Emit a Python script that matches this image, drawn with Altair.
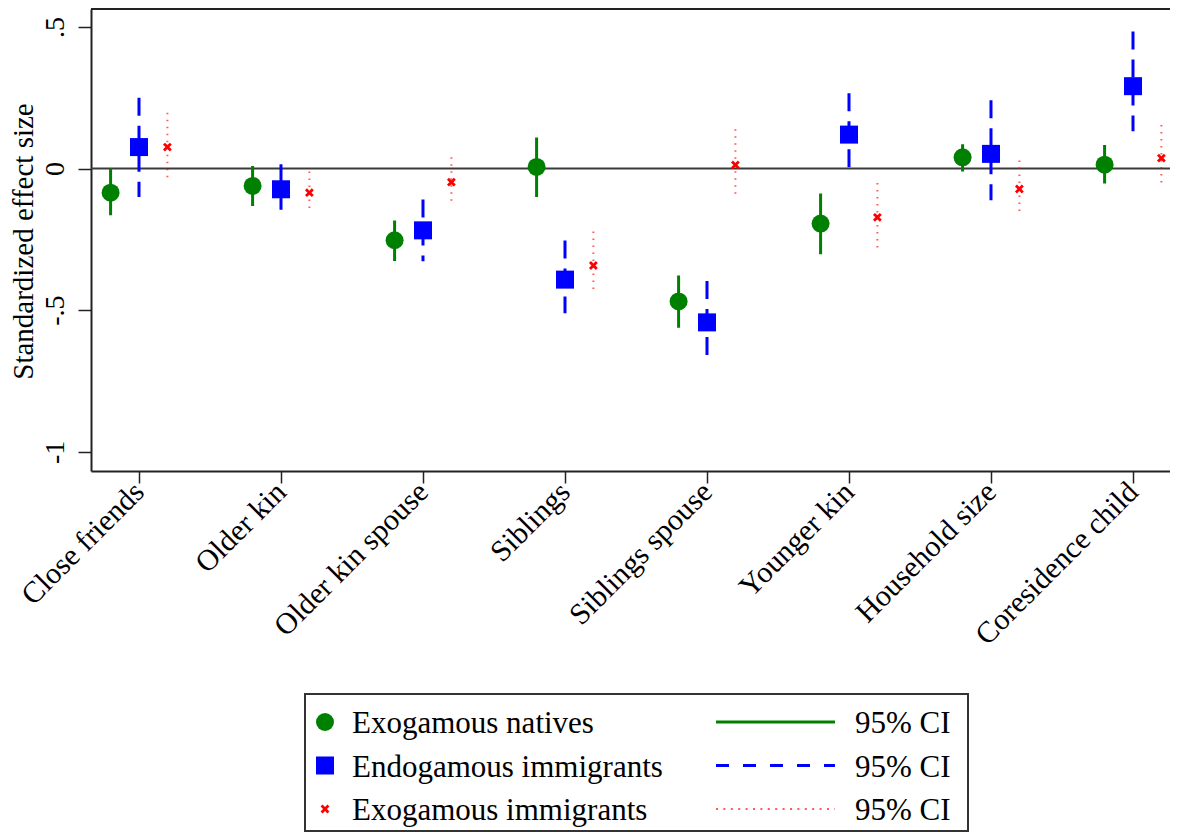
import json
import altair as alt
import pandas as pd

# ---------------- data ----------------
categories = ["Close friends", "Older kin", "Older kin spouse", "Siblings",
              "Siblings spouse", "Younger kin", "Household size", "Coresidence child"]
series = ["Exogamous natives", "Endogamous immigrants", "Exogamous immigrants"]

natives_est = [-0.085, -0.061, -0.253, 0.006, -0.469, -0.194, 0.040, 0.014]
natives_lo = [-0.165, -0.132, -0.326, -0.100, -0.562, -0.302, -0.010, -0.053]
natives_hi = [0.000, 0.009, -0.183, 0.110, -0.377, -0.088, 0.086, 0.083]

endo_est = [0.076, -0.073, -0.218, -0.392, -0.543, 0.120, 0.052, 0.291]
endo_lo = [-0.100, -0.145, -0.327, -0.511, -0.688, -0.025, -0.112, 0.132]
endo_hi = [0.250, 0.015, -0.109, -0.254, -0.397, 0.266, 0.241, 0.484]

exo_est = [0.076, -0.085, -0.048, -0.342, 0.013, -0.172, -0.072, 0.037]
exo_lo = [-0.038, -0.144, -0.120, -0.436, -0.100, -0.286, -0.155, -0.053]
exo_hi = [0.197, -0.010, 0.040, -0.222, 0.139, -0.051, 0.029, 0.154]

ytick_values = [-1, -0.5, 0, 0.5]
ytick_labels = ["-1", "-.5", "0", ".5"]
ci_label = "95% CI"

# ---------------- tables ----------------
series_offset = {series[0]: -0.2, series[1]: 0.0, series[2]: 0.2}
rows = []
for s, est, lo, hi in [(series[0], natives_est, natives_lo, natives_hi),
                       (series[1], endo_est, endo_lo, endo_hi),
                       (series[2], exo_est, exo_lo, exo_hi)]:
    for i, c in enumerate(categories):
        rows.append({"category": c, "idx": i + 1, "series": s,
                     "pos": i + 1 + series_offset[s],
                     "est": est[i], "lo": lo[i], "hi": hi[i]})
df = pd.DataFrame(rows)
legend_df = pd.DataFrame({"series": series, "label": series,
                          "row": list(range(len(series))),
                          "ci": [ci_label] * len(series)})
zero_df = pd.DataFrame({"z": [0]})

# ---------------- styling ----------------
W, H = 1079, 462
FONT = "Liberation Serif, Times New Roman, Times, serif"
FRAME = "#222222"
x_scale = alt.Scale(domain=[0.662, 0.662 + W / 142.0], nice=False, zero=False)
y_scale = alt.Scale(domain=[-1.0677, 0.5635], nice=False, zero=False)

x_path = ("M-1,-0.55L-0.55,-1L0,-0.45L0.55,-1L1,-0.55L0.45,0L1,0.55L0.55,1"
          "L0,0.45L-0.55,1L-1,0.55L-0.45,0Z")
styles = [
    dict(color="#008000", shape="circle", size=324, dash=[1, 0], sw=3, so=1.0,
         leg_dash=[1, 0]),
    dict(color="#0000ff", shape="square", size=324, dash=[18, 10], sw=3, so=1.0,
         leg_dash=[13, 14]),
    dict(color="#ff0000", shape=x_path, size=78, dash=[1.5, 5.5], sw=2, so=0.65,
         leg_dash=[2, 5.4]),
]

cat_expr = json.dumps(categories) + "[datum.value - 1]"
ylab_expr = (json.dumps(ytick_labels) + "[indexof(" + json.dumps(ytick_values)
             + ", datum.value)]")

x_axis = alt.Axis(values=list(range(1, len(categories) + 1)), labelExpr=cat_expr,
                  title=None, grid=False, labelAngle=315, labelAlign="right",
                  labelBaseline="middle", labelPadding=4, labelFont=FONT,
                  labelFontSize=30, labelColor="black", labelOverlap=False,
                  labelFlush=False, labelBound=False, labelLimit=600,
                  tickSize=12, tickWidth=1.5,
                  tickColor=FRAME, domainColor=FRAME, domainWidth=2)
y_axis = alt.Axis(values=ytick_values, labelExpr=ylab_expr,
                  title="Standardized effect size", grid=False, labelAngle=270,
                  labelAlign="center", labelBaseline="alphabetic", labelPadding=15,
                  labelFont=FONT, labelFontSize=28, labelColor="black",
                  labelOverlap=False, labelFlush=False, labelBound=False,
                  tickSize=13, tickWidth=1.5, tickColor=FRAME, domainColor=FRAME,
                  domainWidth=2, titleFont=FONT, titleFontSize=29,
                  titleFontWeight="normal", titleColor="black", titleAngle=270,
                  titleAlign="center", titleBaseline="alphabetic",
                  titleX=-59, titleY=232, titleLimit=600)

x_enc = alt.X("pos:Q", scale=x_scale, axis=x_axis)

layers = []
# zero reference line
layers.append(alt.Chart(zero_df).mark_rule(color="#3a3a3a", strokeWidth=2).encode(
    y=alt.Y("z:Q", scale=y_scale, axis=None),
    x=alt.value(0), x2=alt.value(W)))

# confidence intervals and estimates, one layer per series
for s, st in zip(series, styles):
    base = alt.Chart(df).transform_filter(alt.datum.series == s)
    layers.append(base.mark_rule(color=st["color"], strokeWidth=st["sw"],
                                 strokeDash=st["dash"], strokeOpacity=st["so"],
                                 strokeCap="butt").encode(
        x=x_enc,
        y=alt.Y("hi:Q", scale=y_scale, axis=None),
        y2="lo:Q"))
for k, (s, st) in enumerate(zip(series, styles)):
    base = alt.Chart(df).transform_filter(alt.datum.series == s)
    layers.append(base.mark_point(filled=True, opacity=1, strokeWidth=0,
                                  shape=st["shape"], size=st["size"],
                                  color=st["color"]).encode(
        x=x_enc,
        y=alt.Y("est:Q", scale=y_scale, axis=y_axis if k == 0 else None)))

# top frame line
layers.append(alt.Chart(zero_df).mark_rule(color=FRAME, strokeWidth=2).encode(
    x=alt.value(0), x2=alt.value(W), y=alt.value(0)))

# legend (drawn below the plot)
leg_y = alt.Y("row:Q", scale=alt.Scale(domain=[0, 2], range=[713, 800]), axis=None)
layers.append(alt.Chart(zero_df).mark_rect(fill="white", stroke="#333333",
                                           strokeWidth=2).encode(
    x=alt.value(214), x2=alt.value(877), y=alt.value(685), y2=alt.value(822)))
for s, st in zip(series, styles):
    lb = alt.Chart(legend_df).transform_filter(alt.datum.series == s)
    layers.append(lb.mark_point(filled=True, opacity=1, strokeWidth=0,
                                shape=st["shape"], size=st["size"],
                                color=st["color"]).encode(
        x=alt.value(234), y=leg_y))
    layers.append(lb.mark_rule(color=st["color"], strokeWidth=st["sw"],
                               strokeDash=st["leg_dash"], strokeOpacity=st["so"],
                               strokeCap="butt").encode(
        x=alt.value(625), x2=alt.value(744), y=leg_y))
layers.append(alt.Chart(legend_df).mark_text(align="left", baseline="alphabetic",
                                             dy=11, font=FONT, fontSize=31,
                                             color="black").encode(
    x=alt.value(261), y=leg_y, text="label:N"))
layers.append(alt.Chart(legend_df).mark_text(align="left", baseline="alphabetic",
                                             dy=11, font=FONT, fontSize=31,
                                             color="black").encode(
    x=alt.value(764), y=leg_y, text="ci:N"))

chart = alt.layer(*layers).resolve_scale(
    y="independent"
).properties(
    width=W, height=H,
    autosize=alt.AutoSizeParams(type="none"),
    padding={"left": 83, "top": 1, "right": 0, "bottom": 361},
    background="white",
).configure_view(stroke=None)

chart.save("out.html", embed_options={"renderer": "svg", "actions": False})
